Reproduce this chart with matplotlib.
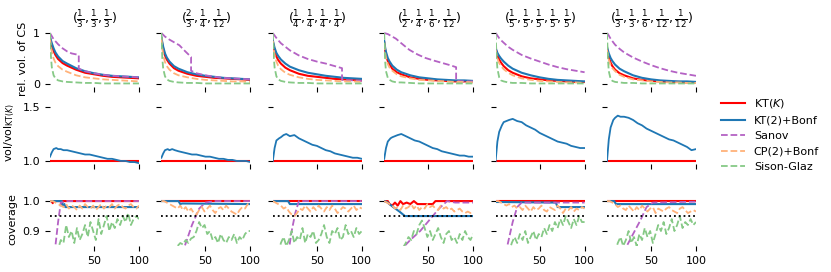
import matplotlib
matplotlib.use('Agg')
import matplotlib.pyplot as plt

# titulos de cada columna (distribucion multinomial)
titulos = [r'$(\frac{1}{3},\frac{1}{3},\frac{1}{3})$',
           r'$(\frac{2}{3},\frac{1}{4},\frac{1}{12})$',
           r'$(\frac{1}{4},\frac{1}{4},\frac{1}{4},\frac{1}{4})$',
           r'$(\frac{1}{2},\frac{1}{4},\frac{1}{6},\frac{1}{12})$',
           r'$(\frac{1}{5},\frac{1}{5},\frac{1}{5},\frac{1}{5},\frac{1}{5})$',
           r'$(\frac{1}{3},\frac{1}{3},\frac{1}{6},\frac{1}{12},\frac{1}{12})$']

# fila 1: volumen relativo del CS
n_vol = [1, 2, 3, 5, 7, 10, 15, 20, 30, 40, 50, 60, 70, 80, 90, 100]
vol_kt_k = [
    [0.90, 0.82, 0.75, 0.65, 0.57, 0.49, 0.41, 0.36, 0.28, 0.22, 0.19, 0.16, 0.14, 0.13, 0.12, 0.11],
    [0.90, 0.78, 0.69, 0.56, 0.48, 0.40, 0.31, 0.26, 0.20, 0.16, 0.14, 0.12, 0.11, 0.10, 0.09, 0.08],
    [0.84, 0.73, 0.65, 0.54, 0.47, 0.40, 0.32, 0.27, 0.20, 0.16, 0.14, 0.12, 0.10, 0.09, 0.08, 0.07],
    [0.82, 0.67, 0.57, 0.45, 0.38, 0.30, 0.23, 0.19, 0.13, 0.10, 0.08, 0.07, 0.06, 0.05, 0.05, 0.05],
    [0.70, 0.62, 0.56, 0.48, 0.42, 0.35, 0.27, 0.22, 0.15, 0.11, 0.09, 0.07, 0.06, 0.05, 0.04, 0.04],
    [0.70, 0.60, 0.52, 0.42, 0.35, 0.28, 0.21, 0.17, 0.11, 0.08, 0.06, 0.05, 0.04, 0.04, 0.03, 0.03]]
vol_kt2 = [
    [0.93, 0.86, 0.80, 0.70, 0.62, 0.54, 0.45, 0.40, 0.31, 0.25, 0.21, 0.18, 0.16, 0.15, 0.14, 0.13],
    [0.92, 0.82, 0.73, 0.60, 0.52, 0.44, 0.35, 0.30, 0.23, 0.19, 0.16, 0.14, 0.12, 0.11, 0.10, 0.09],
    [0.86, 0.78, 0.71, 0.61, 0.55, 0.48, 0.40, 0.34, 0.27, 0.22, 0.19, 0.16, 0.14, 0.12, 0.11, 0.10],
    [0.85, 0.72, 0.63, 0.51, 0.44, 0.36, 0.28, 0.23, 0.17, 0.13, 0.11, 0.09, 0.08, 0.07, 0.07, 0.06],
    [0.71, 0.66, 0.61, 0.55, 0.50, 0.44, 0.36, 0.30, 0.22, 0.17, 0.13, 0.10, 0.08, 0.07, 0.06, 0.05],
    [0.73, 0.66, 0.60, 0.51, 0.45, 0.38, 0.30, 0.25, 0.17, 0.12, 0.09, 0.07, 0.06, 0.05, 0.05, 0.04]]
vol_cp2 = [
    [0.90, 0.74, 0.63, 0.50, 0.42, 0.35, 0.28, 0.24, 0.17, 0.13, 0.11, 0.09, 0.08, 0.07, 0.06, 0.05],
    [0.90, 0.70, 0.57, 0.43, 0.35, 0.28, 0.21, 0.17, 0.13, 0.10, 0.08, 0.07, 0.06, 0.05, 0.05, 0.04],
    [0.85, 0.68, 0.57, 0.44, 0.36, 0.29, 0.22, 0.18, 0.13, 0.10, 0.08, 0.07, 0.06, 0.05, 0.05, 0.04],
    [0.80, 0.62, 0.51, 0.39, 0.32, 0.26, 0.19, 0.15, 0.11, 0.08, 0.07, 0.06, 0.05, 0.04, 0.04, 0.03],
    [0.68, 0.57, 0.50, 0.41, 0.35, 0.29, 0.22, 0.17, 0.11, 0.08, 0.06, 0.05, 0.04, 0.03, 0.03, 0.02],
    [0.68, 0.55, 0.47, 0.37, 0.31, 0.25, 0.18, 0.14, 0.09, 0.07, 0.05, 0.04, 0.03, 0.03, 0.02, 0.02]]
vol_sg = [
    [1.00, 0.55, 0.33, 0.17, 0.11, 0.07, 0.05, 0.04, 0.03, 0.02, 0.02, 0.01, 0.01, 0.01, 0.01, 0.01],
    [1.00, 0.50, 0.30, 0.15, 0.09, 0.06, 0.04, 0.03, 0.02, 0.02, 0.01, 0.01, 0.01, 0.01, 0.01, 0.01],
    [1.00, 0.55, 0.32, 0.15, 0.09, 0.06, 0.04, 0.03, 0.02, 0.02, 0.01, 0.01, 0.01, 0.01, 0.01, 0.01],
    [1.00, 0.45, 0.25, 0.12, 0.08, 0.05, 0.03, 0.03, 0.02, 0.01, 0.01, 0.01, 0.01, 0.01, 0.01, 0.01],
    [1.00, 0.55, 0.30, 0.13, 0.07, 0.05, 0.03, 0.02, 0.02, 0.01, 0.01, 0.01, 0.01, 0.01, 0.01, 0.01],
    [1.00, 0.50, 0.25, 0.10, 0.06, 0.04, 0.03, 0.02, 0.02, 0.01, 0.01, 0.01, 0.01, 0.01, 0.01, 0.01]]
n_sanov = [
    [1, 2, 5, 10, 15, 20, 25, 33, 33, 40, 50, 60, 70, 80, 90, 100],
    [1, 5, 10, 15, 21, 27, 34, 34, 40, 50, 60, 70, 80, 90, 100],
    [1, 3, 6, 10, 15, 20, 30, 40, 50, 60, 70, 78, 78, 90, 100],
    [1, 5, 10, 14, 20, 29, 38, 47, 56, 66, 74, 81, 81, 90, 100],
    [1, 2, 3, 5, 7, 10, 15, 20, 30, 40, 50, 60, 70, 80, 90, 100],
    [1, 2, 3, 5, 7, 10, 15, 20, 30, 40, 50, 60, 70, 80, 90, 100]]
vol_sanov = [
    [1.00, 0.97, 0.88, 0.78, 0.70, 0.64, 0.60, 0.57, 0.30, 0.25, 0.21, 0.18, 0.16, 0.15, 0.14, 0.13],
    [1.00, 0.93, 0.87, 0.82, 0.76, 0.65, 0.53, 0.26, 0.21, 0.17, 0.14, 0.12, 0.11, 0.10, 0.09],
    [1.00, 0.95, 0.88, 0.80, 0.73, 0.66, 0.56, 0.49, 0.44, 0.40, 0.35, 0.31, 0.08, 0.07, 0.06],
    [1.00, 0.98, 0.93, 0.89, 0.80, 0.67, 0.58, 0.51, 0.46, 0.41, 0.37, 0.33, 0.06, 0.05, 0.05],
    [1.00, 0.98, 0.95, 0.90, 0.86, 0.81, 0.73, 0.67, 0.57, 0.50, 0.44, 0.38, 0.33, 0.29, 0.26, 0.23],
    [1.00, 0.98, 0.95, 0.89, 0.84, 0.77, 0.69, 0.62, 0.52, 0.44, 0.37, 0.31, 0.26, 0.22, 0.19, 0.16]]

# fila 2: cociente de volumenes respecto a KT(K)
n_ratio = [1, 3, 5, 8, 10, 13, 16, 20, 25, 30, 35, 40, 45, 50, 55, 60, 65, 70, 75, 80, 85, 90, 95, 100]
ratio_kt2 = [
    [1.04, 1.08, 1.11, 1.12, 1.11, 1.11, 1.10, 1.10, 1.09, 1.08, 1.07, 1.06, 1.06, 1.05, 1.04, 1.03, 1.02, 1.02, 1.01, 1.00, 1.00, 0.99, 0.99, 0.98],
    [1.03, 1.07, 1.10, 1.11, 1.10, 1.11, 1.10, 1.09, 1.08, 1.07, 1.06, 1.06, 1.05, 1.04, 1.04, 1.03, 1.02, 1.02, 1.01, 1.01, 1.00, 1.00, 1.00, 0.99],
    [1.00, 1.12, 1.19, 1.21, 1.22, 1.24, 1.25, 1.23, 1.24, 1.21, 1.19, 1.17, 1.15, 1.14, 1.12, 1.10, 1.09, 1.07, 1.06, 1.05, 1.04, 1.03, 1.03, 1.02],
    [1.02, 1.12, 1.18, 1.21, 1.22, 1.23, 1.24, 1.25, 1.23, 1.21, 1.19, 1.18, 1.16, 1.14, 1.12, 1.11, 1.09, 1.08, 1.07, 1.06, 1.05, 1.05, 1.04, 1.04],
    [1.00, 1.18, 1.27, 1.33, 1.36, 1.37, 1.38, 1.39, 1.37, 1.36, 1.33, 1.31, 1.29, 1.26, 1.24, 1.22, 1.20, 1.18, 1.17, 1.16, 1.14, 1.13, 1.12, 1.12],
    [1.00, 1.20, 1.31, 1.38, 1.40, 1.42, 1.41, 1.41, 1.40, 1.38, 1.35, 1.33, 1.30, 1.28, 1.26, 1.24, 1.22, 1.20, 1.19, 1.17, 1.15, 1.13, 1.10, 1.11]]

# fila 3: cobertura empirica
n_cov = list(range(1, 101, 3))
cov_cp2 = [
    [1.0, 1.0, 0.995, 0.99, 0.985, 0.98, 0.99, 0.975, 0.985, 0.98, 0.97, 0.985, 0.975, 0.99, 0.98, 0.975, 0.985, 0.97, 0.98, 0.99, 0.975, 0.985, 0.98, 0.99, 0.975, 0.985, 0.99, 0.98, 0.975, 0.985, 0.99, 0.98, 0.975, 0.985],
    [1.0, 1.0, 0.995, 0.99, 0.985, 0.98, 0.975, 0.985, 0.97, 0.98, 0.965, 0.975, 0.96, 0.955, 0.97, 0.98, 0.965, 0.975, 0.985, 0.97, 0.96, 0.975, 0.98, 0.97, 0.985, 0.975, 0.965, 0.96, 0.955, 0.97, 0.98, 0.975, 0.99, 0.985],
    [1.0, 0.995, 0.99, 0.985, 0.975, 0.98, 0.965, 0.955, 0.95, 0.96, 0.975, 0.97, 0.985, 0.975, 0.965, 0.98, 0.97, 0.985, 0.975, 0.965, 0.98, 0.97, 0.985, 0.975, 0.96, 0.97, 0.98, 0.975, 0.965, 0.975, 0.985, 0.97, 0.98, 0.975],
    [1.0, 0.995, 0.99, 0.985, 0.975, 0.98, 0.97, 0.985, 0.975, 0.98, 0.99, 0.975, 0.985, 0.97, 0.98, 0.975, 0.99, 0.98, 0.985, 0.975, 0.97, 0.985, 0.975, 0.98, 0.97, 0.975, 0.965, 0.97, 0.975, 0.965, 0.96, 0.965, 0.96, 0.96],
    [1.0, 1.0, 0.995, 0.99, 0.985, 0.99, 0.98, 0.985, 0.975, 0.98, 0.97, 0.985, 0.975, 0.965, 0.98, 0.97, 0.975, 0.985, 0.97, 0.965, 0.98, 0.975, 0.97, 0.985, 0.975, 0.96, 0.975, 0.97, 0.98, 0.965, 0.975, 0.97, 0.98, 0.975],
    [1.0, 1.0, 0.995, 0.99, 0.98, 0.985, 0.975, 0.97, 0.985, 0.975, 0.965, 0.98, 0.97, 0.985, 0.975, 0.965, 0.975, 0.98, 0.96, 0.975, 0.97, 0.965, 0.975, 0.98, 0.97, 0.965, 0.96, 0.975, 0.98, 0.97, 0.96, 0.965, 0.97, 0.965]]
cov_sg = [
    [0.50, 0.70, 0.80, 0.84, 0.87, 0.86, 0.92, 0.88, 0.90, 0.86, 0.91, 0.87, 0.89, 0.92, 0.88, 0.93, 0.90, 0.87, 0.94, 0.89, 0.92, 0.95, 0.90, 0.93, 0.91, 0.94, 0.92, 0.95, 0.93, 0.96, 0.92, 0.94, 0.95, 0.94],
    [0.30, 0.50, 0.65, 0.75, 0.80, 0.84, 0.85, 0.86, 0.855, 0.87, 0.86, 0.875, 0.88, 0.90, 0.93, 0.91, 0.92, 0.89, 0.90, 0.87, 0.88, 0.86, 0.89, 0.87, 0.86, 0.88, 0.87, 0.89, 0.86, 0.88, 0.87, 0.89, 0.90, 0.90],
    [0.40, 0.70, 0.82, 0.86, 0.88, 0.85, 0.87, 0.90, 0.86, 0.88, 0.87, 0.91, 0.86, 0.89, 0.88, 0.90, 0.86, 0.87, 0.89, 0.92, 0.88, 0.86, 0.90, 0.89, 0.91, 0.87, 0.88, 0.92, 0.89, 0.90, 0.88, 0.91, 0.89, 0.90],
    [0.30, 0.50, 0.65, 0.75, 0.80, 0.83, 0.84, 0.845, 0.86, 0.88, 0.87, 0.90, 0.89, 0.92, 0.935, 0.91, 0.88, 0.90, 0.87, 0.89, 0.91, 0.88, 0.86, 0.89, 0.90, 0.87, 0.88, 0.86, 0.89, 0.87, 0.90, 0.88, 0.87, 0.89],
    [0.30, 0.50, 0.65, 0.75, 0.80, 0.83, 0.86, 0.88, 0.86, 0.89, 0.87, 0.90, 0.86, 0.88, 0.90, 0.87, 0.89, 0.88, 0.91, 0.89, 0.92, 0.90, 0.93, 0.91, 0.94, 0.92, 0.95, 0.93, 0.91, 0.94, 0.92, 0.95, 0.93, 0.93],
    [0.30, 0.55, 0.75, 0.83, 0.86, 0.88, 0.85, 0.87, 0.90, 0.86, 0.88, 0.85, 0.89, 0.87, 0.91, 0.88, 0.90, 0.86, 0.89, 0.92, 0.90, 0.93, 0.89, 0.91, 0.94, 0.90, 0.92, 0.95, 0.91, 0.93, 0.92, 0.94, 0.92, 0.93]]
n_cov_kt_k = [
    [1, 3, 4, 5, 13, 14, 15, 100],
    [1, 100],
    [1, 100],
    [1, 5, 7, 10, 13, 16, 19, 22, 26, 30, 34, 38, 42, 46, 50, 55, 58, 100],
    [1, 100],
    [1, 100]]
cov_kt_k = [
    [1.0, 1.0, 0.993, 1.0, 1.0, 0.99, 1.0, 1.0],
    [1.0, 1.0],
    [1.0, 1.0],
    [1.0, 1.0, 0.99, 0.985, 0.995, 0.985, 1.0, 0.99, 0.995, 0.99, 1.0, 0.99, 0.99, 0.99, 0.99, 0.99, 1.0, 1.0],
    [1.0, 1.0],
    [1.0, 1.0]]
n_cov_kt2 = [
    [1, 14, 15, 17, 18, 100],
    [1, 20, 22, 24, 100],
    [1, 18, 20, 100],
    [1, 4, 11, 18, 24, 100],
    [1, 68, 70, 100],
    [1, 9, 11, 100]]
cov_kt2 = [
    [1.0, 1.0, 0.985, 0.99, 0.98, 0.98],
    [1.0, 1.0, 0.99, 0.992, 0.99],
    [1.0, 1.0, 0.99, 0.99],
    [1.0, 0.997, 0.98, 0.965, 0.95, 0.95],
    [0.997, 0.995, 0.98, 0.98],
    [1.0, 1.0, 0.99, 0.99]]
n_cov_sanov = [
    [1, 4, 7, 10, 13, 20, 100],
    [1, 10, 20, 27, 35, 43, 50, 60, 100],
    [1, 10, 18, 22, 26, 30, 100],
    [1, 10, 22, 30, 41, 48, 55, 62, 71, 80, 100],
    [1, 6, 14, 20, 25, 30, 100],
    [1, 10, 23, 30, 38, 45, 52, 100]]
cov_sanov = [
    [0.30, 0.60, 0.85, 0.93, 0.995, 1.0, 1.0],
    [0.30, 0.60, 0.78, 0.85, 0.92, 0.975, 0.995, 1.0, 1.0],
    [0.30, 0.60, 0.82, 0.90, 0.96, 1.0, 1.0],
    [0.20, 0.50, 0.845, 0.87, 0.90, 0.925, 0.95, 0.975, 1.0, 0.995, 0.995],
    [0.30, 0.60, 0.85, 0.93, 0.98, 0.995, 0.995],
    [0.30, 0.60, 0.85, 0.89, 0.935, 0.98, 0.995, 0.998]]
nivel = 0.95

rojo = '#ff0000'
azul = '#1f77b4'
morado = '#b462c4'
naranja = '#ffb27a'
verde = '#86c986'

plt.rcParams['font.size'] = 8

fig = plt.figure(figsize=(8.31, 2.72), dpi=100)
W, H = 831.0, 272.0
filas = [(30.5, 56.0), (100.0, 64.0), (193.0, 53.0)]  # (y arriba, alto) en px
ejes = []
for f, (y0, h) in enumerate(filas):
    fila = []
    for c in range(6):
        x0 = 50 + c * 111.4
        ax = fig.add_axes([x0 / W, 1 - (y0 + h) / H, 89 / W, h / H])
        fila.append(ax)
    ejes.append(fila)

for c in range(6):
    # volumen relativo
    ax = ejes[0][c]
    ax.plot(n_vol, vol_kt_k[c], color=rojo, lw=1.5)
    ax.plot(n_vol, vol_kt2[c], color=azul, lw=1.5)
    ax.plot(n_sanov[c], vol_sanov[c], color=morado, lw=1.3, ls='--')
    ax.plot(n_vol, vol_cp2[c], color=naranja, lw=1.3, ls='--')
    ax.plot(n_vol, vol_sg[c], color=verde, lw=1.3, ls='--')
    ax.set_ylim(-0.05, 1.05)
    ax.set_yticks([0, 1])
    ax.set_title(titulos[c], fontsize=9, pad=6)

    # cociente
    ax = ejes[1][c]
    ax.plot([1, 100], [1.0, 1.0], color=rojo, lw=1.5)
    ax.plot(n_ratio, ratio_kt2[c], color=azul, lw=1.3)
    ax.set_ylim(0.972, 1.565)
    ax.set_yticks([1.0, 1.5])

    # cobertura
    ax = ejes[2][c]
    ax.plot(n_cov_kt_k[c], cov_kt_k[c], color=rojo, lw=1.5)
    ax.plot(n_cov_kt2[c], cov_kt2[c], color=azul, lw=1.5)
    ax.plot(n_cov_sanov[c], cov_sanov[c], color=morado, lw=1.3, ls='--')
    ax.plot(n_cov, cov_cp2[c], color=naranja, lw=1.3, ls='--')
    ax.plot(n_cov, cov_sg[c], color=verde, lw=1.3, ls='--')
    ax.plot([1, 100], [nivel, nivel], color='black', lw=1.3, ls=':')
    ax.set_ylim(0.85, 1.027)
    ax.set_yticks([0.9, 1.0])

for f in range(3):
    for c in range(6):
        ax = ejes[f][c]
        ax.set_xlim(1, 100)
        ax.set_xticks([50, 100])
        for s in ax.spines.values():
            s.set_visible(False)
        if f < 2:
            ax.set_xticklabels([])
        if c > 0:
            ax.set_yticklabels([])

ejes[0][0].set_yticklabels(['0', '1'])
ejes[0][0].set_ylabel('rel. vol. of CS')
ejes[1][0].set_ylabel(r'vol/vol$_{\mathrm{KT}(K)}$')
ejes[2][0].set_ylabel('coverage')
fig.align_ylabels([ejes[0][0], ejes[1][0], ejes[2][0]])

etiquetas = ['KT($K$)', 'KT(2)+Bonf', 'Sanov', 'CP(2)+Bonf', 'Sison-Glaz']
lineas = ejes[0][0].get_lines()
fig.legend(lineas, etiquetas, loc='center left', bbox_to_anchor=(0.855, 0.505),
           frameon=False, fontsize=8, handlelength=2.2)

fig.savefig('out.png', dpi=100)
